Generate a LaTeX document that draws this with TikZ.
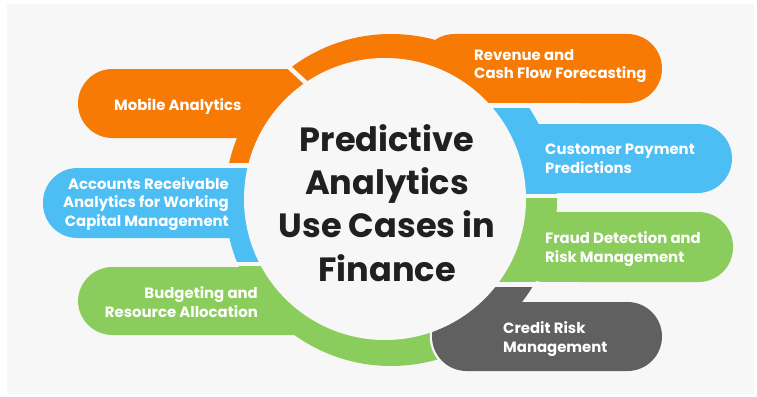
\documentclass[tikz,border=0pt]{standalone}
\usepackage{fontspec}
\setmainfont{Poppins}
\definecolor{bgc}{RGB}{247,247,247}
\definecolor{orng}{RGB}{246,122,4}
\definecolor{skyb}{RGB}{77,190,243}
\definecolor{lgrn}{RGB}{139,205,92}
\definecolor{dgry}{RGB}{96,96,96}
\definecolor{ink}{RGB}{32,32,32}
\begin{document}
\begin{tikzpicture}[x=1pt,y=-1pt,
  tablabel/.style={text=white,inner sep=0pt,font=\fontsize{14.9}{18.7}\selectfont\bfseries},
  headline/.style={text=ink,inner sep=0pt,align=center,font=\fontsize{33.6}{43.3}\selectfont\bfseries},
  pill/.style={rounded corners=34.5pt},
  gapline/.style={bgc,line width=4.5pt}]
 \useasboundingbox (0,0) rectangle (757,396);
 \fill[white] (0,0) rectangle (757,396);
 \fill[bgc] (7,4) rectangle (754,394);
 % ring pieces
 \begin{scope}
  \clip (394.5,165.5) -- (82,-126) -- (-100,-126) -- (-100,165.5) -- cycle;
  \fill[orng] (391,200) circle (166);
 \end{scope}
 \begin{scope}
  \clip (394.5,165.5) -- (82,-126) -- (800,-126) -- (800,105.5) -- (400,105.5) -- (400,165.5) -- cycle;
  \fill[orng] (391,200) circle (166);
 \end{scope}
 \begin{scope}
  \clip (400,105.5) -- (800,105.5) -- (800,196) -- (400,196) -- cycle;
  \fill[skyb] (391,200) circle (166);
 \end{scope}
 \begin{scope}
  \clip (400,196) -- (800,196) -- (800,284.5) -- (400,284.5) -- cycle;
  \fill[lgrn] (391,200) circle (166);
 \end{scope}
 \begin{scope}
  \clip (-100,264) -- (411,264) -- (587,700) -- (-100,700) -- cycle;
  \fill[lgrn] (391,200) circle (166);
 \end{scope}
 \begin{scope}
  \clip (-100,165.5) -- (385,165.5) -- (385,264) -- (-100,264) -- cycle;
  \fill[skyb] (391,200) circle (166);
 \end{scope}
 % tabs
 \fill[orng,pill] (78,69) rectangle (320,138);
 \fill[orng,pill] (420,34) rectangle (662,103);
 \fill[skyb,pill] (500,124) rectangle (732,193);
 \fill[lgrn,pill] (510,212) rectangle (733,282);
 \fill[skyb,pill] (43,168) rectangle (300,238);
 \fill[lgrn,pill] (78,267) rectangle (330,335);
 % credit risk piece sits on top
 \draw[gapline,pill] (432,302) rectangle (662,371);
 \begin{scope}
  \clip (419.5,284.5) -- (800,284.5) -- (800,700) -- (587,700) -- cycle;
  \fill[dgry] (391,200) circle (166);
 \end{scope}
 \fill[dgry,pill] (432,302) rectangle (662,371);
 % gaps
 \draw[gapline] (279.2,58) -- (315.8,92);
 \draw[gapline] (200,165.5) -- (330,165.5);
 \draw[gapline] (200,264) -- (330,264);
 \draw[gapline] (440,105.5) -- (580,105.5);
 \draw[gapline] (440,196) -- (580,196);
 \draw[gapline] (440,284.5) -- (580,284.5);
 \fill[bgc] (385,199) circle (141);
 % labels
 \node[headline] (centre) at (387,203) {Predictive\\Analytics\\Use Cases in\\Finance};
 \node[tablabel,anchor=base west] (mobile) at (114,110.7) {Mobile Analytics};
 \node[tablabel,anchor=west,align=left] (revenue) at (474,66) {Revenue and\\Cash Flow Forecasting};
 \node[tablabel,anchor=west,align=left] (customer) at (545,159) {Customer Payment\\Predictions};
 \node[tablabel,anchor=west,align=left] (fraud) at (545,249) {Fraud Detection and\\Risk Management};
 \node[tablabel,anchor=west,align=left] (credit) at (503,339) {Credit Risk\\Management};
 \node[tablabel,anchor=east,align=right] (budget) at (258,302) {Budgeting and\\Resource Allocation};
 \node[tablabel,anchor=east,align=right] (receivable) at (229,204) {Accounts Receivable\\Analytics for Working\\Capital Management};
\end{tikzpicture}
\end{document}
